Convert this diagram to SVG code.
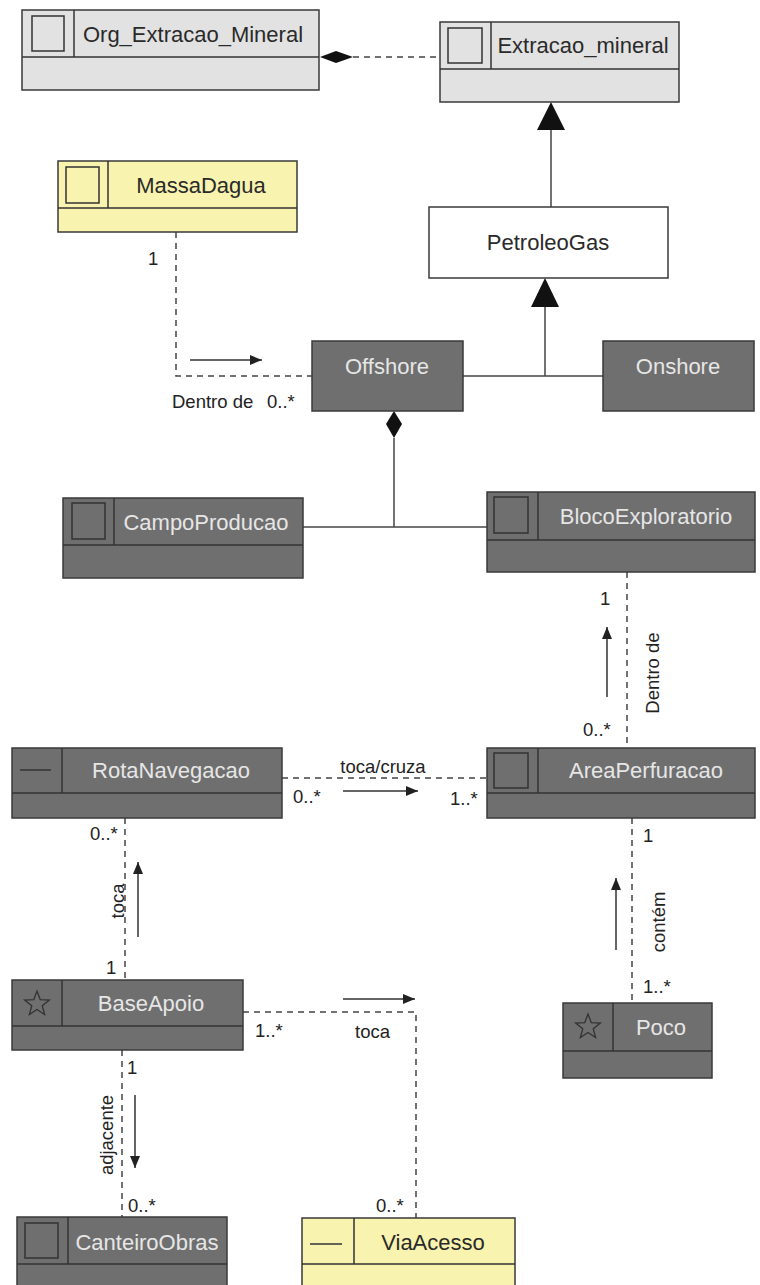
<svg xmlns="http://www.w3.org/2000/svg" width="760" height="1285" viewBox="0 0 760 1285">
<defs>
<style>
.box{stroke:#3a3a3a;stroke-width:1.5}
.dark{fill:#6f6f6f}
.light{fill:#e2e2e2}
.yellow{fill:#f8f3ae}
.white{fill:#ffffff}
.div{stroke:#333;stroke-width:1.5;fill:none}
.icon{fill:none;stroke:#333;stroke-width:1.5}
.tl{font-family:"Liberation Sans",Arial,sans-serif;font-size:22px;text-anchor:middle}
.tdark{fill:#e6e6e6}
.tblack{fill:#2a2a2a}
.lbl{font-family:"Liberation Sans",Arial,sans-serif;font-size:18.5px;fill:#222}
.dash{stroke:#444;stroke-width:1.5;stroke-dasharray:6,5;fill:none}
.solid{stroke:#444;stroke-width:1.5;fill:none}
.arr{stroke:#333;stroke-width:1.5;fill:none;marker-end:url(#ah)}
</style>
<marker id="ah" viewBox="0 0 12 10" refX="12" refY="5" markerWidth="12" markerHeight="10" markerUnits="userSpaceOnUse" orient="auto">
<path d="M0,0 L12,5 L0,10 z" fill="#222"/>
</marker>
<polygon id="star" points="0,-13 3.23,-4.45 12.36,-4.02 5.23,1.7 7.64,10.52 0,5.5 -7.64,10.52 -5.23,1.7 -12.36,-4.02 -3.23,-4.45" fill="none" stroke="#333" stroke-width="1.3"/>
</defs>

<g id="connectors">
<line class="dash" x1="353" y1="57" x2="440" y2="57"/>
<polygon points="320,57 336,51 353,57 336,63" fill="#111"/>
<line class="solid" x1="551" y1="130" x2="551" y2="207"/>
<polygon points="551,102 565,130 537,130" fill="#111"/>
<polyline class="solid" points="463,376 603,376"/>
<line class="solid" x1="545" y1="306" x2="545" y2="376"/>
<polygon points="545,278 559,307 531,307" fill="#111"/>
<polyline class="dash" points="176,232 176,376 312,376"/>
<line class="arr" x1="190" y1="360" x2="262" y2="360"/>
<polygon points="394,411 402,424 394,438 386,424" fill="#111"/>
<line class="solid" x1="394" y1="438" x2="394" y2="527"/>
<line class="solid" x1="303" y1="527" x2="487" y2="527"/>
<line class="dash" x1="627" y1="572" x2="627" y2="748"/>
<line class="arr" x1="607" y1="697" x2="607" y2="627"/>
<line class="dash" x1="282" y1="778" x2="487" y2="778"/>
<line class="arr" x1="343" y1="791" x2="418" y2="791"/>
<line class="dash" x1="632" y1="818" x2="632" y2="1003"/>
<line class="arr" x1="616" y1="950" x2="616" y2="878"/>
<line class="dash" x1="125" y1="818" x2="125" y2="980"/>
<line class="arr" x1="138" y1="937" x2="138" y2="862"/>
<polyline class="dash" points="243,1012 416,1012 416,1218"/>
<line class="arr" x1="343" y1="999" x2="415" y2="999"/>
<line class="dash" x1="122" y1="1050" x2="122" y2="1217"/>
<line class="arr" x1="135" y1="1095" x2="135" y2="1168"/>
</g>

<g id="labels">
<text class="lbl" x="148" y="265">1</text>
<text class="lbl" x="172" y="408">Dentro de</text>
<text class="lbl" x="267" y="408">0..*</text>
<text class="lbl" x="600" y="605">1</text>
<text class="lbl" x="583" y="736">0..*</text>
<text class="lbl" x="0" y="0" text-anchor="middle" dominant-baseline="central" transform="translate(652,673) rotate(-90)">Dentro de</text>
<text class="lbl" x="383" y="773" text-anchor="middle">toca/cruza</text>
<text class="lbl" x="293" y="803">0..*</text>
<text class="lbl" x="450" y="805">1..*</text>
<text class="lbl" x="643" y="842">1</text>
<text class="lbl" x="0" y="0" text-anchor="middle" dominant-baseline="central" transform="translate(658,922) rotate(-90)">contém</text>
<text class="lbl" x="643" y="993">1..*</text>
<text class="lbl" x="90" y="840">0..*</text>
<text class="lbl" x="0" y="0" text-anchor="middle" dominant-baseline="central" transform="translate(117,901) rotate(-90)">toca</text>
<text class="lbl" x="106" y="974">1</text>
<text class="lbl" x="255" y="1037">1..*</text>
<text class="lbl" x="355" y="1038">toca</text>
<text class="lbl" x="127" y="1074">1</text>
<text class="lbl" x="0" y="0" text-anchor="middle" dominant-baseline="central" transform="translate(106,1135) rotate(-90)">adjacente</text>
<text class="lbl" x="128" y="1212">0..*</text>
<text class="lbl" x="376" y="1212">0..*</text>
</g>

<g id="Org_Extracao_Mineral">
<rect class="box light" x="22" y="10" width="297" height="80"/>
<line class="div" x1="22" y1="57" x2="319" y2="57"/>
<line class="div" x1="74" y1="10" x2="74" y2="57"/>
<rect class="icon" x="32" y="16" width="32" height="35"/>
<text class="tl tblack" x="193" y="42">Org_Extracao_Mineral</text>
</g>

<g id="Extracao_mineral">
<rect class="box light" x="440" y="22" width="239" height="80"/>
<line class="div" x1="440" y1="69" x2="679" y2="69"/>
<line class="div" x1="491" y1="22" x2="491" y2="69"/>
<rect class="icon" x="448" y="28" width="34" height="35"/>
<text class="tl tblack" x="583" y="53">Extracao_mineral</text>
</g>

<g id="MassaDagua">
<rect class="box yellow" x="58" y="161" width="239" height="71"/>
<line class="div" x1="58" y1="208" x2="297" y2="208"/>
<line class="div" x1="108" y1="161" x2="108" y2="208"/>
<rect class="icon" x="66" y="167" width="33" height="36"/>
<text class="tl tblack" x="201" y="193">MassaDagua</text>
</g>

<g id="PetroleoGas">
<rect class="box white" x="429" y="207" width="239" height="71"/>
<text class="tl tblack" x="548" y="250">PetroleoGas</text>
</g>

<g id="Offshore">
<rect class="box dark" x="312" y="341" width="151" height="70"/>
<text class="tl tdark" x="387" y="374">Offshore</text>
</g>

<g id="Onshore">
<rect class="box dark" x="603" y="341" width="151" height="70"/>
<text class="tl tdark" x="678" y="374">Onshore</text>
</g>

<g id="CampoProducao">
<rect class="box dark" x="63" y="498" width="240" height="80"/>
<line class="div" x1="63" y1="545" x2="303" y2="545"/>
<line class="div" x1="114" y1="498" x2="114" y2="545"/>
<rect class="icon" x="72" y="503" width="33" height="36"/>
<text class="tl tdark" x="206" y="530">CampoProducao</text>
</g>

<g id="BlocoExploratorio">
<rect class="box dark" x="487" y="492" width="268" height="80"/>
<line class="div" x1="487" y1="540" x2="755" y2="540"/>
<line class="div" x1="538" y1="492" x2="538" y2="540"/>
<rect class="icon" x="494" y="497" width="34" height="36"/>
<text class="tl tdark" x="646" y="524">BlocoExploratorio</text>
</g>

<g id="RotaNavegacao">
<rect class="box dark" x="12" y="748" width="270" height="70"/>
<line class="div" x1="12" y1="793" x2="282" y2="793"/>
<line class="div" x1="62" y1="748" x2="62" y2="793"/>
<line class="icon" x1="20" y1="770" x2="51" y2="770"/>
<text class="tl tdark" x="171" y="778">RotaNavegacao</text>
</g>

<g id="AreaPerfuracao">
<rect class="box dark" x="487" y="748" width="268" height="70"/>
<line class="div" x1="487" y1="793" x2="755" y2="793"/>
<line class="div" x1="538" y1="748" x2="538" y2="793"/>
<rect class="icon" x="494" y="753" width="34" height="35"/>
<text class="tl tdark" x="646" y="778">AreaPerfuracao</text>
</g>

<g id="BaseApoio">
<rect class="box dark" x="12" y="980" width="231" height="70"/>
<line class="div" x1="12" y1="1026" x2="243" y2="1026"/>
<line class="div" x1="62" y1="980" x2="62" y2="1026"/>
<use href="#star" transform="translate(37,1004)"/>
<text class="tl tdark" x="151" y="1011">BaseApoio</text>
</g>

<g id="Poco">
<rect class="box dark" x="563" y="1003" width="149" height="75"/>
<line class="div" x1="563" y1="1051" x2="712" y2="1051"/>
<line class="div" x1="613" y1="1003" x2="613" y2="1051"/>
<use href="#star" transform="translate(588,1027)"/>
<text class="tl tdark" x="661" y="1035">Poco</text>
</g>

<g id="CanteiroObras">
<rect class="box dark" x="17" y="1217" width="210" height="80"/>
<line class="div" x1="17" y1="1264" x2="227" y2="1264"/>
<line class="div" x1="68" y1="1217" x2="68" y2="1264"/>
<rect class="icon" x="25" y="1223" width="33" height="35"/>
<text class="tl tdark" x="147" y="1250">CanteiroObras</text>
</g>

<g id="ViaAcesso">
<rect class="box yellow" x="302" y="1218" width="213" height="80"/>
<line class="div" x1="302" y1="1264" x2="515" y2="1264"/>
<line class="div" x1="354" y1="1218" x2="354" y2="1264"/>
<line class="icon" x1="310" y1="1244" x2="342" y2="1244"/>
<text class="tl tblack" x="433" y="1250">ViaAcesso</text>
</g>
</svg>
